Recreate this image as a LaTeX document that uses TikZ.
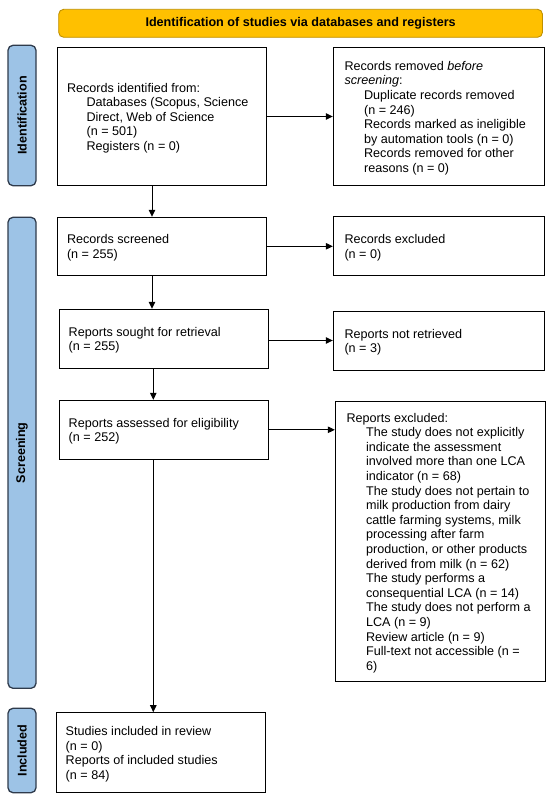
\documentclass[tikz,border=0pt]{standalone}
\usepackage{fontspec}
\setmainfont{Liberation Sans}
\usetikzlibrary{arrows.meta}
\definecolor{bannerfill}{HTML}{FFC000}
\definecolor{bannerline}{HTML}{BF9000}
\definecolor{sidefill}{HTML}{9DC3E6}
\definecolor{sideline}{HTML}{2F3B4C}
\newlength{\indlen}
\setlength{\indlen}{19.6pt}
\newcommand{\indt}{\hspace*{\indlen}}
\begin{document}
\begin{tikzpicture}[x=1pt,y=-1pt,
  every node/.style={font=\fontsize{12.6}{14.6}\selectfont},
  banner/.style={draw=bannerline, fill=bannerfill, line width=0.9pt, rounded corners=5pt, inner sep=0pt, font=\fontsize{12.6}{14.6}\selectfont\bfseries},
  side/.style={draw=sideline, fill=sidefill, line width=1.3pt, rounded corners=5pt, inner sep=0pt, rotate=90, font=\fontsize{12.6}{14.6}\selectfont\bfseries},
  pbox/.style={draw=black, line width=1pt, inner sep=0pt},
  ptextl/.style={anchor=west, align=left, inner xsep=10pt, inner ysep=0pt, yshift=-1.6pt},
  ptextr/.style={anchor=west, align=left, inner xsep=11.5pt, inner ysep=0pt, yshift=-1.6pt},
  arr/.style={draw=black, line width=1pt, -{Triangle[length=7pt,width=6.5pt]}}
]
\useasboundingbox (0,0) rectangle (550,800);
\fill[white] (0,0) rectangle (550,800);

% banner
\node[banner, minimum width=483.8pt, minimum height=28pt] (ban) at (300.6,23.3) {Identification of studies via databases and registers};

% side bars
\node[side, minimum width=140.4pt, minimum height=28pt] (s1) at (22,115.5) {Identification};
\node[side, minimum width=471pt, minimum height=28pt] (s2) at (22,452.8) {Screening};
\node[side, minimum width=84.4pt, minimum height=28pt] (s3) at (22,750.5) {Included};

% boxes
\node[pbox, minimum width=209.4pt, minimum height=137.6pt] (b1) at (162,116.5) {};
\node[pbox, minimum width=210.7pt, minimum height=137.6pt] (b2) at (438.65,116.5) {};
\node[pbox, minimum width=209.4pt, minimum height=58pt] (b3) at (162,246.3) {};
\node[pbox, minimum width=210.7pt, minimum height=58.6pt] (b4) at (438.65,246) {};
\node[pbox, minimum width=209.7pt, minimum height=59pt] (b5) at (163.85,338.8) {};
\node[pbox, minimum width=210.7pt, minimum height=59pt] (b6) at (438.65,340.5) {};
\node[pbox, minimum width=209.7pt, minimum height=59pt] (b7) at (163.85,429.8) {};
\node[pbox, minimum width=210.4pt, minimum height=280.7pt] (b8) at (440.5,541.35) {};
\node[pbox, minimum width=209.5pt, minimum height=80pt] (b9) at (160.75,752.7) {};

% texts
\node[ptextl] (t1) at (b1.west) {Records identified from:\\
\indt Databases (Scopus, Science\\
\indt Direct, Web of Science\\
\indt (n = 501)\\
\indt Registers (n = 0)};
\node[ptextr] (t2) at (b2.west) {Records removed \emph{before}\\
\emph{screening}:\\
\indt Duplicate records removed\\
\indt (n = 246)\\
\indt Records marked as ineligible\\
\indt by automation tools (n = 0)\\
\indt Records removed for other\\
\indt reasons (n = 0)};
\node[ptextl] (t3) at (b3.west) {Records screened\\(n = 255)};
\node[ptextr] (t4) at (b4.west) {Records excluded\\(n = 0)};
\node[ptextl] (t5) at (b5.west) {Reports sought for retrieval\\(n = 255)};
\node[ptextr] (t6) at (b6.west) {Reports not retrieved\\(n = 3)};
\node[ptextl] (t7) at (b7.west) {Reports assessed for eligibility\\(n = 252)};
\node[ptextr] (t8) at (b8.west) {Reports excluded:\\
\indt The study does not explicitly\\
\indt indicate the assessment\\
\indt involved more than one LCA\\
\indt indicator (n = 68)\\
\indt The study does not pertain to\\
\indt milk production from dairy\\
\indt cattle farming systems, milk\\
\indt processing after farm\\
\indt production, or other products\\
\indt derived from milk (n = 62)\\
\indt The study performs a\\
\indt consequential LCA (n = 14)\\
\indt The study does not perform a\\
\indt LCA (n = 9)\\
\indt Review article (n = 9)\\
\indt Full-text not accessible (n =\\
\indt 6)};
\node[ptextl] (t9) at (b9.west) {Studies included in review\\(n = 0)\\Reports of included studies\\(n = 84)};

% arrows
\coordinate (ax1) at (152,0);
\coordinate (ax2) at (153.3,0);
\draw[arr] (b1.east) -- (b1.east -| b2.west);
\draw[arr] (b3.east) -- (b3.east -| b4.west);
\draw[arr] (b6.west -| b5.east) -- (b6.west);
\draw[arr] (b7.east) -- (b7.east -| b8.west);
\draw[arr] (b1.south -| ax1) -- (b3.north -| ax1);
\draw[arr] (b3.south -| ax1) -- (b5.north -| ax1);
\draw[arr] (b5.south -| ax2) -- (b7.north -| ax2);
\draw[arr] (b7.south -| ax2) -- (b9.north -| ax2);
\end{tikzpicture}
\end{document}
